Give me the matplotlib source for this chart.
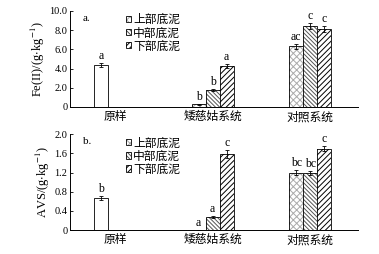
import numpy as np
import matplotlib
matplotlib.use("Agg")
import matplotlib.pyplot as plt
from matplotlib.patches import Patch
from matplotlib.legend_handler import HandlerTuple

plt.rcParams['font.family'] = ['Liberation Serif', 'Noto Sans CJK SC']
plt.rcParams['hatch.linewidth'] = 0.7
plt.rcParams['mathtext.fontset'] = 'stix'

groups = ['原样', '矮慈姑系统', '对照系统']
layers = ['上部底泥', '中部底泥', '下部底泥']

# Fe(II), g/kg
fe_raw, fe_raw_err, fe_raw_lab = 4.4, 0.2, 'a'
fe_vals = {'上部底泥': [0.3, 6.3], '中部底泥': [1.8, 8.4], '下部底泥': [4.3, 8.1]}
fe_errs = {'上部底泥': [0.05, 0.3], '中部底泥': [0.1, 0.3], '下部底泥': [0.2, 0.3]}
fe_labs = {'上部底泥': ['b', 'ac'], '中部底泥': ['b', 'c'], '下部底泥': ['a', 'c']}

# AVS, g/kg
avs_raw, avs_raw_err, avs_raw_lab = 0.67, 0.04, 'b'
avs_vals = {'上部底泥': [0.01, 1.2], '中部底泥': [0.28, 1.19], '下部底泥': [1.58, 1.7]}
avs_errs = {'上部底泥': [0.0, 0.05], '中部底泥': [0.02, 0.05], '下部底泥': [0.08, 0.06]}
avs_labs = {'上部底泥': ['a', 'bc'], '中部底泥': ['a', 'bc'], '下部底泥': ['c', 'c']}

styles = {
    '上部底泥': dict(hatch='xxxxx', edgecolor='#aaaaaa'),
    '中部底泥': dict(hatch='\\' * 8, edgecolor='#555555'),
    '下部底泥': dict(hatch='//////', edgecolor='black'),
}

fig = plt.figure(figsize=(3.79, 2.54), dpi=100)
ax1 = fig.add_axes([0.185, 0.579, 0.76, 0.378])
ax2 = fig.add_axes([0.185, 0.094, 0.76, 0.378])

w = 0.144
x = np.arange(len(groups))
ekw = dict(elinewidth=0.6, capsize=1.5, capthick=0.6)


def panel(ax, raw, raw_err, raw_lab, vals, errs, labs, ymax, ticks, ticklabels, ylabel, tag, off):
    ax.bar(x[0] - w, raw, w, yerr=raw_err, color='white', edgecolor='black', linewidth=0.6,
           error_kw=ekw)
    ax.text(x[0] - w, raw + raw_err + off, raw_lab, ha='center', va='bottom', fontsize=8.5)
    handles = []
    for i, layer in enumerate(layers):
        xs = x[1:] + (i - 1) * w
        st = styles[layer]
        ax.bar(xs, vals[layer], w, color='white', hatch=st['hatch'],
               edgecolor=st['edgecolor'], linewidth=0)
        ax.bar(xs, vals[layer], w, yerr=errs[layer], color='none', edgecolor='black',
               linewidth=0.6, error_kw=ekw)
        for xx, v, e, lab in zip(xs, vals[layer], errs[layer], labs[layer]):
            ax.text(xx, v + e + off, lab, ha='center', va='bottom', fontsize=8.5)
        handles.append((Patch(facecolor='white', hatch=st['hatch'], edgecolor=st['edgecolor'], linewidth=0),
                        Patch(facecolor='none', edgecolor='black', linewidth=0.6)))
    ax.set_xlim(-0.46, 2.49)
    ax.set_ylim(0, ymax)
    ax.set_yticks(ticks)
    ax.set_yticklabels(ticklabels, fontsize=7.5)
    ax.set_xticks(x)
    ax.set_xticklabels(groups, fontsize=8.5)
    ax.tick_params(axis='x', length=0, pad=3)
    ax.tick_params(axis='y', direction='in', length=2.5, width=0.6, pad=2)
    for s in ['top', 'right']:
        ax.spines[s].set_visible(False)
    for s in ['left', 'bottom']:
        ax.spines[s].set_linewidth(0.7)
    ax.set_ylabel(ylabel, fontsize=9, labelpad=2)
    ax.text(0.045, 0.97, tag, transform=ax.transAxes, fontsize=8, va='top')
    ax.legend(handles, layers, loc='upper left', bbox_to_anchor=(0.17, 1.04), frameon=False,
              fontsize=8.5, handlelength=0.45, handleheight=0.45, handletextpad=0.15,
              labelspacing=0.1, borderpad=0.1,
              handler_map={tuple: HandlerTuple(ndivide=1, pad=0)})


panel(ax1, fe_raw, fe_raw_err, fe_raw_lab, fe_vals, fe_errs, fe_labs, 10,
      [0, 2, 4, 6, 8, 10], ['0', '2.0', '4.0', '6.0', '8.0', '10.0'],
      r'Fe(II)/(g$\cdot$kg$^{-1}$)', 'a.', 0.1)
panel(ax2, avs_raw, avs_raw_err, avs_raw_lab, avs_vals, avs_errs, avs_labs, 2,
      [0, 0.4, 0.8, 1.2, 1.6, 2.0], ['0', '0.4', '0.8', '1.2', '1.6', '2.0'],
      r'AVS/(g$\cdot$kg$^{-1}$)', 'b.', 0.02)

fig.savefig('out.png', dpi=100)
